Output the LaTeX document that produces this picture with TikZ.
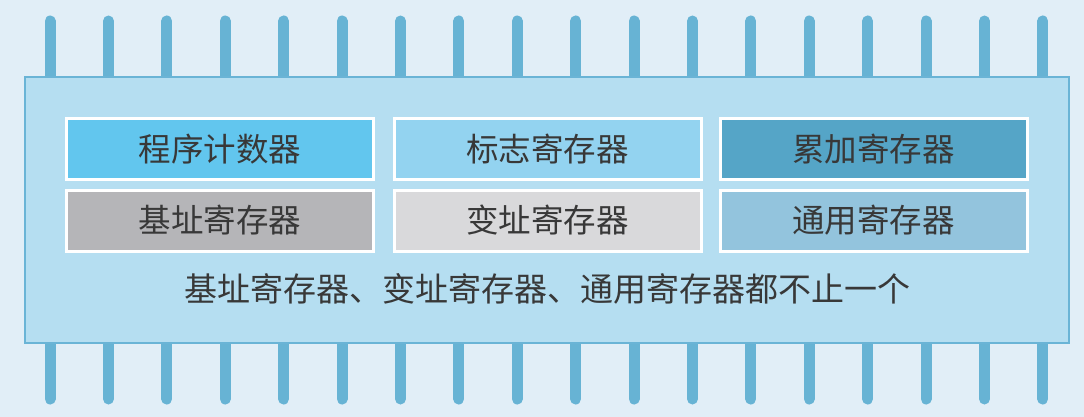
\documentclass[tikz,border=0pt]{standalone}
\usepackage{fontspec}
\setmainfont{Noto Sans CJK SC}
\definecolor{bgblue}{HTML}{E1EEF7}
\definecolor{chipfill}{HTML}{B5DEF1}
\definecolor{chipline}{HTML}{6AB4D6}
\definecolor{pincol}{HTML}{67B3D4}
\definecolor{pcfill}{HTML}{62C6EE}
\definecolor{flagfill}{HTML}{93D3F0}
\definecolor{accfill}{HTML}{55A5C7}
\definecolor{basefill}{HTML}{B5B5B8}
\definecolor{indexfill}{HTML}{D9D9DB}
\definecolor{genfill}{HTML}{93C4DD}
\definecolor{txt}{HTML}{383838}
\begin{document}
\begin{tikzpicture}[x=1pt,y=-1pt,
    pin/.style={draw=pincol,line width=11pt,line cap=round},
    chip/.style={draw=chipline,line width=2.5pt,fill=chipfill},
    regbox/.style={draw=white,line width=3pt,minimum width=307pt,minimum height=61pt,
      inner sep=0pt,font=\fontsize{32.5}{36}\selectfont,text=txt}]
    \useasboundingbox[fill=bgblue] (0,0) rectangle (1084,417);
    % pins
    \foreach \i in {0,...,17} {
      \draw[pin] ({50+\i*58.4},21) -- ({50+\i*58.4},80);
      \draw[pin] ({50+\i*58.4},340) -- ({50+\i*58.4},399);
    }
    \node[chip,minimum width=1044pt,minimum height=266pt,inner sep=0pt] (body) at (547,210) {};
    % registers
    \node[regbox,fill=pcfill]    (pc)    at (220,149)   {程序计数器};
    \node[regbox,fill=flagfill]  (flag)  at (547.5,149) {标志寄存器};
    \node[regbox,fill=accfill]   (acc)   at (873.5,149) {累加寄存器};
    \node[regbox,fill=basefill]  (base)  at (220,220.5)   {基址寄存器};
    \node[regbox,fill=indexfill] (index) at (547.5,220.5) {变址寄存器};
    \node[regbox,fill=genfill]   (gen)   at (873.5,220.5) {通用寄存器};
    \node[font=\fontsize{33}{36}\selectfont,text=txt] (note) at (547,289)
      {基址寄存器、变址寄存器、通用寄存器都不止一个};
  \end{tikzpicture}
\end{document}
